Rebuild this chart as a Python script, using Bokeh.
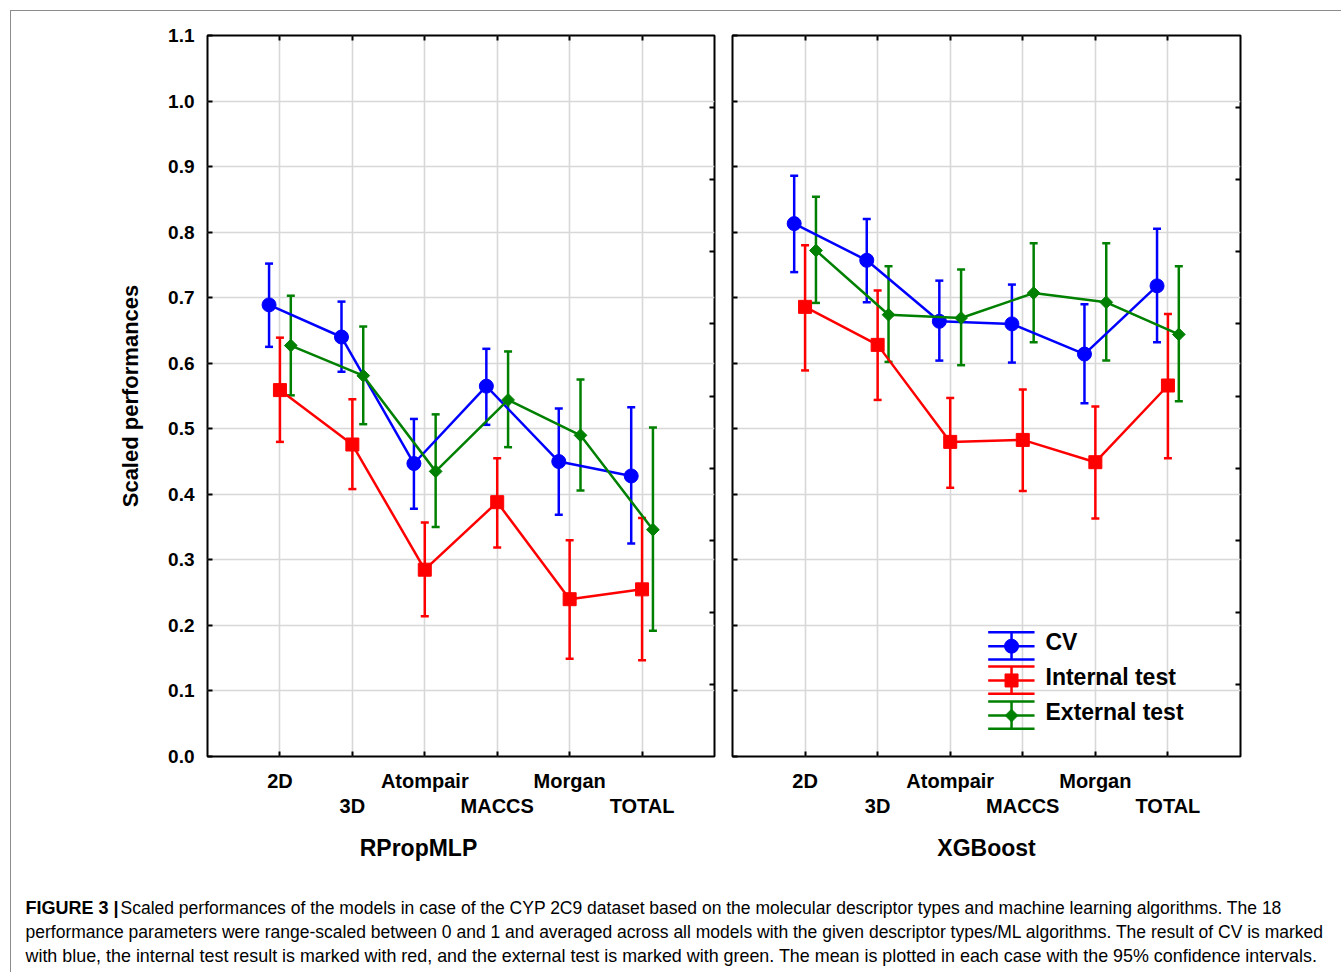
import numpy as np
from bokeh.plotting import figure
from bokeh.models import (Range1d, LinearAxis, FixedTicker, Label, ColumnDataSource,
                          Whisker, TeeHead, CustomJSTickFormatter)
from bokeh.layouts import row, column
from bokeh.embed import file_html
from bokeh.resources import INLINE

# ---------------- data ----------------
descriptors = ["2D", "3D", "Atompair", "MACCS", "Morgan", "TOTAL"]
positions = [1, 2, 3, 4, 5, 6]
y_ticks = [0.0, 0.1, 0.2, 0.3, 0.4, 0.5, 0.6, 0.7, 0.8, 0.9, 1.0, 1.1]
y_tick_labels = ["0.0", "0.1", "0.2", "0.3", "0.4", "0.5", "0.6", "0.7", "0.8", "0.9", "1.0", "1.1"]
series_names = ["CV", "Internal test", "External test"]
panel_names = ["RPropMLP", "XGBoost"]

mlp_cv_mean = [0.689, 0.640, 0.447, 0.565, 0.450, 0.428]
mlp_cv_low = [0.625, 0.587, 0.378, 0.506, 0.369, 0.325]
mlp_cv_high = [0.752, 0.694, 0.515, 0.622, 0.531, 0.533]
mlp_int_mean = [0.559, 0.476, 0.285, 0.388, 0.240, 0.255]
mlp_int_low = [0.480, 0.408, 0.214, 0.319, 0.149, 0.147]
mlp_int_high = [0.639, 0.545, 0.357, 0.455, 0.330, 0.364]
mlp_ext_mean = [0.627, 0.581, 0.435, 0.544, 0.490, 0.346]
mlp_ext_low = [0.551, 0.507, 0.350, 0.472, 0.406, 0.192]
mlp_ext_high = [0.703, 0.656, 0.522, 0.618, 0.575, 0.502]

xgb_cv_mean = [0.813, 0.757, 0.664, 0.660, 0.614, 0.718]
xgb_cv_low = [0.739, 0.693, 0.604, 0.601, 0.539, 0.632]
xgb_cv_high = [0.886, 0.820, 0.726, 0.720, 0.690, 0.805]
xgb_int_mean = [0.686, 0.628, 0.480, 0.483, 0.449, 0.566]
xgb_int_low = [0.589, 0.544, 0.410, 0.405, 0.363, 0.455]
xgb_int_high = [0.780, 0.711, 0.547, 0.560, 0.534, 0.675]
xgb_ext_mean = [0.772, 0.674, 0.669, 0.707, 0.693, 0.644]
xgb_ext_low = [0.692, 0.602, 0.597, 0.632, 0.604, 0.542]
xgb_ext_high = [0.854, 0.748, 0.743, 0.783, 0.783, 0.748]

caption_bold = "FIGURE 3 |"
caption_lines = [
    "Scaled performances of the models in case of the CYP 2C9 dataset based on the molecular descriptor types and machine learning algorithms. The 18",
    "performance parameters were range-scaled between 0 and 1 and averaged across all models with the given descriptor types/ML algorithms. The result of CV is marked",
    "with blue, the internal test result is marked with red, and the external test is marked with green. The mean is plotted in each case with the 95% confidence intervals.",
]

# ---------------- styles ----------------
FONT = "Liberation Sans"
BLUE, RED, GREEN = "#0000ff", "#ff0000", "#008000"
styles = [
    dict(color=BLUE, marker="circle", size=14, angle=0.0, offset=-0.15),
    dict(color=RED, marker="square", size=13, angle=0.0, offset=0.0),
    dict(color=GREEN, marker="square", size=9, angle=np.pi / 4, offset=0.15),
]


def empty_fmt():
    return CustomJSTickFormatter(code="return ''")


def make_panel(name, title_x, data, show_y, border_left, border_right, legend=False):
    p = figure(frame_width=507 if show_y else 508, frame_height=721,
               x_range=Range1d(0, 7), y_range=Range1d(0, 1.1),
               x_axis_location=None, y_axis_location=None,
               toolbar_location=None, output_backend="svg",
               min_border_left=border_left, min_border_right=border_right,
               min_border_top=24, min_border_bottom=119)
    p.outline_line_color = "black"
    p.outline_line_width = 2
    p.background_fill_color = "white"
    p.border_fill_color = "white"
    p.xgrid.ticker = FixedTicker(ticks=positions)
    p.ygrid.ticker = FixedTicker(ticks=y_ticks)
    for g in (p.xgrid, p.ygrid):
        g.grid_line_color = "#d8d8d8"
        g.grid_line_width = 1.6
    p.extra_y_ranges = {"div": Range1d(0, 10)}

    # left axis
    la = LinearAxis(ticker=FixedTicker(ticks=y_ticks), major_tick_in=5, major_tick_out=0,
                    major_tick_line_width=2, axis_line_color=None,
                    minor_tick_line_color=None)
    if show_y:
        la.major_label_overrides = {t: l for t, l in zip(y_ticks, y_tick_labels)}
        la.major_label_standoff = 13
        la.major_label_text_font = FONT
        la.major_label_text_font_style = "bold"
        la.major_label_text_font_size = "19px"
        la.major_label_text_color = "black"
        la.axis_label = "Scaled performances"
        la.axis_label_text_font = FONT
        la.axis_label_text_font_style = "bold"
        la.axis_label_text_font_size = "22px"
        la.axis_label_text_color = "black"
        la.axis_label_standoff = 22
    else:
        la.formatter = empty_fmt()
        la.major_label_standoff = 0
        la.major_label_text_font_size = "1px"
    p.add_layout(la, "left")

    # right axis (10 divisions)
    ra = LinearAxis(y_range_name="div", ticker=FixedTicker(ticks=list(range(1, 10))),
                    major_tick_in=5, major_tick_out=0, major_tick_line_width=2,
                    axis_line_color=None, minor_tick_line_color=None,
                    formatter=empty_fmt(), major_label_standoff=0,
                    major_label_text_font_size="1px")
    p.add_layout(ra, "right")

    # top axis
    ta = LinearAxis(ticker=FixedTicker(ticks=positions), major_tick_in=5, major_tick_out=0,
                    major_tick_line_width=2, axis_line_color=None,
                    minor_tick_line_color=None, formatter=empty_fmt(),
                    major_label_standoff=0, major_label_text_font_size="1px")
    p.add_layout(ta, "above")

    # bottom axes (staggered labels)
    row1 = {pos: (lab if i % 2 == 0 else "") for i, (pos, lab) in enumerate(zip(positions, descriptors))}
    row2 = {pos: lab for i, (pos, lab) in enumerate(zip(positions, descriptors)) if i % 2 == 1}
    b1 = LinearAxis(ticker=FixedTicker(ticks=positions), major_tick_in=5, major_tick_out=0,
                    major_tick_line_width=2, axis_line_color=None,
                    minor_tick_line_color=None, major_label_overrides=row1,
                    major_label_standoff=13)
    b2 = LinearAxis(ticker=FixedTicker(ticks=list(row2.keys())), major_tick_in=0, major_tick_out=0,
                    major_tick_line_color=None, axis_line_color=None,
                    minor_tick_line_color=None, major_label_overrides=row2,
                    major_label_standoff=0)
    for b in (b1, b2):
        b.major_label_text_font = FONT
        b.major_label_text_font_style = "bold"
        b.major_label_text_font_size = "20px"
        b.major_label_text_color = "black"
        p.add_layout(b, "below")

    # panel title as a single-tick axis
    b3 = LinearAxis(ticker=FixedTicker(ticks=[title_x]), major_tick_in=0, major_tick_out=0,
                    major_tick_line_color=None, axis_line_color=None,
                    minor_tick_line_color=None,
                    formatter=CustomJSTickFormatter(args=dict(t=name), code="return t"),
                    major_label_standoff=15, major_label_text_font=FONT,
                    major_label_text_font_style="bold", major_label_text_font_size="23px",
                    major_label_text_color="black")
    p.add_layout(b3, "below")

    # series
    for (mean, low, high), st in zip(data, styles):
        x = np.array(positions, dtype=float) + st["offset"]
        src = ColumnDataSource(dict(x=x, y=mean, lo=low, hi=high))
        w = Whisker(source=src, base="x", upper="hi", lower="lo",
                    line_color=st["color"], line_width=2.5,
                    upper_head=TeeHead(size=8, line_color=st["color"], line_width=2.5),
                    lower_head=TeeHead(size=8, line_color=st["color"], line_width=2.5))
        p.add_layout(w)
        p.line("x", "y", source=src, line_color=st["color"], line_width=2.5)
        p.scatter("x", "y", source=src, marker=st["marker"], size=st["size"], angle=st["angle"],
                  fill_color=st["color"], line_color=st["color"], line_width=1)

    if legend:
        lx0, lx1, lxc, tx = 3.523, 4.162, 3.845, 4.313
        rows = [(0.1896, 0.1683, 0.148, 0.1754), (0.1373, 0.1160, 0.0957, 0.1213),
                (0.0839, 0.0625, 0.0423, 0.0679)]
        for (yt, yc, yb, ytxt), st, nm in zip(rows, styles, series_names):
            p.segment(x0=[lx0, lx0, lx0, lxc], x1=[lx1, lx1, lx1, lxc],
                      y0=[yt, yc, yb, yt], y1=[yt, yc, yb, yb],
                      line_color=st["color"], line_width=2.5)
            p.scatter(x=[lxc], y=[yc], marker=st["marker"], size=st["size"], angle=st["angle"],
                      fill_color=st["color"], line_color=st["color"])
            p.add_layout(Label(x=tx, y=ytxt, text=nm, text_align="left", text_baseline="middle",
                               text_font=FONT, text_font_style="bold", text_font_size="23px",
                               text_color="black"))
    return p


p1 = make_panel(panel_names[0], 2.913,
                [(mlp_cv_mean, mlp_cv_low, mlp_cv_high),
                 (mlp_int_mean, mlp_int_low, mlp_int_high),
                 (mlp_ext_mean, mlp_ext_low, mlp_ext_high)],
                True, 196, 9)
p2 = make_panel(panel_names[1], 3.5,
                [(xgb_cv_mean, xgb_cv_low, xgb_cv_high),
                 (xgb_int_mean, xgb_int_low, xgb_int_high),
                 (xgb_ext_mean, xgb_ext_low, xgb_ext_high)],
                False, 9, 80, legend=True)

# caption
CW, CH = 1330, 97
cap = figure(width=CW, height=CH, x_range=Range1d(0, CW), y_range=Range1d(CH, 0),
             x_axis_location=None, y_axis_location=None, toolbar_location=None,
             output_backend="svg", min_border=0)
cap.outline_line_color = None
cap.xgrid.visible = False
cap.ygrid.visible = False
cap.background_fill_color = "white"
cap.border_fill_color = "white"
line_y = [32, 56, 80]
line_sizes = ["17.5px", "17.5px", "17.9px"]
cap.add_layout(Label(x=14, y=line_y[0], text=caption_bold, text_font=FONT, text_font_style="bold",
                     text_font_size="18px", text_baseline="middle", text_color="black"))
cap.add_layout(Label(x=109, y=line_y[0], text=caption_lines[0], text_font=FONT,
                     text_font_size=line_sizes[0], text_baseline="middle", text_color="black"))
for yy, txt, fs in zip(line_y[1:], caption_lines[1:], line_sizes[1:]):
    cap.add_layout(Label(x=14, y=yy, text=txt, text_font=FONT, text_font_size=fs,
                         text_baseline="middle", text_color="black"))

layout = column(row(p1, p2), cap, margin=(10, 0, 0, 10),
                styles={"border-top": "1px solid #8c8c8c", "border-left": "1px solid #8c8c8c"})

open("out.html", "w").write(file_html(layout, INLINE))
